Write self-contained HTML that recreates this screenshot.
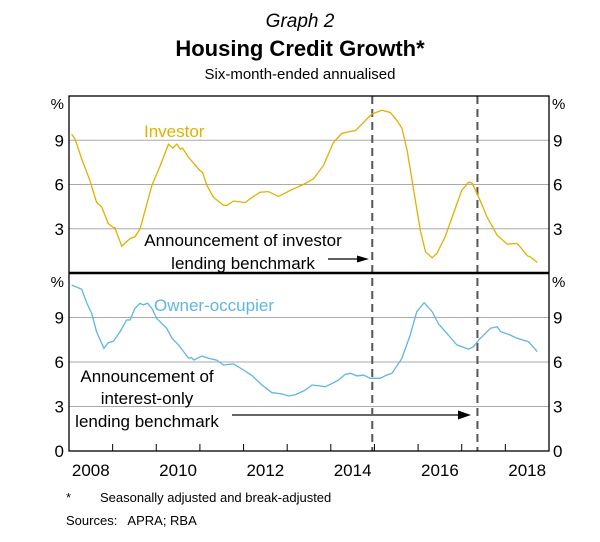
<!DOCTYPE html>
<html><head><meta charset="utf-8"><style>
body{margin:0;background:#fff;}
svg{display:block;font-family:"Liberation Sans",Arial,sans-serif;}
</style></head><body>
<svg id="chart" width="600" height="542" viewBox="0 0 600 542">
<text x="300" y="27" text-anchor="middle" font-size="19" font-style="italic">Graph 2</text>
<text x="300" y="56" text-anchor="middle" font-size="22" font-weight="bold">Housing Credit Growth*</text>
<text x="300" y="79" text-anchor="middle" font-size="15">Six-month-ended annualised</text>
<g id="grid"></g>
<g id="marks"></g>
<g id="axes"></g>
<text x="144" y="137" font-size="17" fill="#e2b000">Investor</text>
<text x="154" y="311" font-size="17" fill="#5fb5e5">Owner-occupier</text>
<text x="243" y="246" text-anchor="middle" font-size="17">Announcement of investor</text>
<text x="243" y="269" text-anchor="middle" font-size="17">lending benchmark</text>
<text x="147" y="382" text-anchor="middle" font-size="17">Announcement of</text>
<text x="147" y="404" text-anchor="middle" font-size="17">interest-only</text>
<text x="147" y="427" text-anchor="middle" font-size="17">lending benchmark</text>
<g>
<line x1="328" y1="259" x2="358" y2="259" stroke="#000" stroke-width="1.3"/>
<polygon points="357,255.5 369,259 357,262.5" fill="#000"/></g>
<g>
<line x1="232" y1="415" x2="460" y2="415" stroke="#666" stroke-width="2"/>
<polygon points="458,410.5 471,415 458,419.5" fill="#000"/></g>
<text x="66" y="502" font-size="13">*</text>
<text x="100" y="502" font-size="13">Seasonally adjusted and break-adjusted</text>
<text x="66" y="525" font-size="13" xml:space="preserve">Sources:   APRA; RBA</text>
</svg>
<script>
const investorT=[2008.06,2008.14,2008.29,2008.48,2008.63,2008.75,2008.9,2009.02,2009.05,2009.21,2009.4,2009.51,2009.63,2009.9,2010.09,2010.28,2010.38,2010.47,2010.55,2010.6,2010.74,2011.0,2011.06,2011.16,2011.31,2011.54,2011.62,2011.77,2012.04,2012.15,2012.38,2012.57,2012.8,2013.07,2013.37,2013.6,2013.83,2014.06,2014.25,2014.44,2014.56,2014.71,2014.94,2015.17,2015.36,2015.52,2015.63,2015.75,2015.9,2016.05,2016.17,2016.32,2016.43,2016.62,2016.81,2017.0,2017.16,2017.24,2017.39,2017.58,2017.81,2018.04,2018.27,2018.34,2018.5,2018.57,2018.73];
const investorV=[9.4,9.08,7.73,6.27,4.81,4.47,3.35,3.08,3.08,1.82,2.34,2.45,3.0,5.93,7.28,8.74,8.47,8.74,8.4,8.47,7.84,6.94,6.83,5.93,5.14,4.58,4.58,4.88,4.77,5.03,5.48,5.52,5.19,5.6,6.0,6.38,7.28,8.85,9.46,9.6,9.64,10.09,10.77,11.04,10.88,10.32,9.82,8.29,5.6,2.9,1.44,1.03,1.33,2.45,4.03,5.6,6.16,6.09,5.14,3.8,2.56,1.96,2.0,1.77,1.17,1.1,0.72];
const ownerT=[2008.06,2008.29,2008.41,2008.52,2008.63,2008.8,2008.9,2009.02,2009.17,2009.32,2009.4,2009.51,2009.63,2009.7,2009.8,2009.9,2010.01,2010.24,2010.36,2010.51,2010.74,2010.81,2010.86,2011.04,2011.2,2011.39,2011.54,2011.77,2012.0,2012.19,2012.42,2012.65,2012.88,2013.03,2013.18,2013.41,2013.57,2013.76,2013.87,2014.03,2014.18,2014.33,2014.45,2014.6,2014.75,2014.9,2015.13,2015.28,2015.4,2015.63,2015.82,2015.97,2016.14,2016.32,2016.47,2016.66,2016.89,2017.16,2017.27,2017.39,2017.66,2017.81,2017.89,2018.11,2018.27,2018.53,2018.73];
const ownerV=[11.19,10.9,9.96,9.28,8.05,6.92,7.3,7.4,8.05,8.83,8.83,9.62,9.96,9.85,9.96,9.62,8.94,8.27,7.6,7.15,6.25,6.3,6.13,6.4,6.25,6.12,5.8,5.87,5.46,5.1,4.45,3.93,3.85,3.71,3.78,4.1,4.45,4.38,4.33,4.56,4.79,5.17,5.24,5.06,5.12,4.9,4.9,5.12,5.24,6.25,7.82,9.4,10.0,9.4,8.56,7.93,7.15,6.86,7.03,7.48,8.27,8.38,8.05,7.82,7.6,7.37,6.7];
const yTicks=[0,3,6,9];
const yearLabels=[2008,2010,2012,2014,2016,2018];
const eventDates=[2014.95,2017.36];

const L=69,R=549,T0=2008,T1=2019;
const x=t=>L+(t-T0)/(T1-T0)*(R-L);
const yTop=v=>273-v/12*177;
const yBot=v=>451-v/12*178;
const NS="http://www.w3.org/2000/svg";
function mk(tag,attrs,parent){const e=document.createElementNS(NS,tag);for(const k in attrs)e.setAttribute(k,attrs[k]);parent.appendChild(e);return e;}
const grid=document.getElementById('grid'),marks=document.getElementById('marks'),axes=document.getElementById('axes');

[[yTop,'top'],[yBot,'bottom']].forEach(([yf,p])=>{
  yTicks.forEach(v=>{
    if(v>0){const g=mk('line',{x1:L,x2:R,y1:yf(v),y2:yf(v),stroke:'#aaa','stroke-width':1},grid);
      
      }
    if(!(p==='top'&&v===0)){
      const a=mk('text',{x:64,y:yf(v)+6,'text-anchor':'end','font-size':17},axes);a.textContent=v;
      
      
      const b=mk('text',{x:553,y:yf(v)+6,'font-size':17},axes);b.textContent=v;
      
      }
  });
  const py=p==='top'?109:287;
  const a=mk('text',{x:64,y:py,'text-anchor':'end','font-size':15},axes);a.textContent='%';
  
  
  const b=mk('text',{x:552,y:py,'font-size':15},axes);b.textContent='%';
  
  
});

eventDates.forEach((d,i)=>{
  const l=mk('line',{x1:x(d),x2:x(d),y1:96,y2:451,stroke:'#555','stroke-width':2,'stroke-dasharray':'8,5'},marks);
  
  
});

function path(ts,vs,yf){return ts.map((t,i)=>(i?'L':'M')+x(t).toFixed(1)+','+yf(vs[i]).toFixed(1)).join('');}
const p1=mk('path',{d:path(investorT,investorV,yTop),fill:'none',stroke:'#e2b000','stroke-width':1.3},marks);


const p2=mk('path',{d:path(ownerT,ownerV,yBot),fill:'none',stroke:'#5fb5e5','stroke-width':1.3},marks);



const fr=mk('rect',{x:L,y:96,width:R-L,height:355,fill:'none',stroke:'#000','stroke-width':1.3},axes);


const dv=mk('line',{x1:L,x2:R,y1:273,y2:273,stroke:'#000','stroke-width':2.5},axes);


for(let yr=T0+1;yr<T1;yr++){
  const t=mk('line',{x1:x(yr),x2:x(yr),y1:451,y2:444,stroke:'#000','stroke-width':1},axes);
  
  
}
yearLabels.forEach(yr=>{
  const t=mk('text',{x:x(yr+0.5),y:476,'text-anchor':'middle','font-size':17},axes);t.textContent=yr;
  
  
});
</script>
</body></html>
